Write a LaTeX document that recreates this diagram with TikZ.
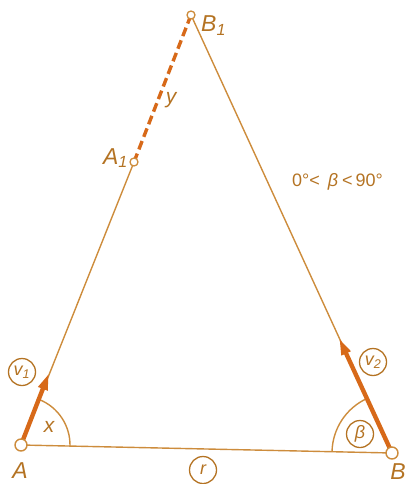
\documentclass[tikz,border=0pt]{standalone}
\usepackage{fontspec}
\setmainfont{Liberation Sans}
\usetikzlibrary{arrows.meta}
\definecolor{thin}{RGB}{205,140,60}
\definecolor{thick}{RGB}{215,105,25}
\definecolor{txt}{RGB}{180,115,35}
\begin{document}
\begin{tikzpicture}[x=1pt,y=-1pt,
  edge/.style={draw=thin,line width=1.4pt},
  vec/.style={draw=thick,line width=4.4pt,-{Triangle[length=17pt,width=9pt]}},
  bigdot/.style={circle,draw=thin,fill=white,line width=1.4pt,inner sep=0pt,minimum size=12pt},
  smalldot/.style={circle,draw=thin,fill=white,line width=1.3pt,inner sep=0pt,minimum size=8pt},
  lab/.style={text=txt,font=\fontsize{23}{23}\selectfont\itshape,inner sep=0pt},
  slab/.style={text=txt,font=\fontsize{21}{21}\selectfont\itshape,inner sep=0pt},
  ring/.style={circle,draw=txt,line width=1.3pt,text=txt,inner sep=0pt,minimum size=27pt,font=\fontsize{18}{18}\selectfont\itshape}]
\useasboundingbox (0,0) rectangle (406,484);
\coordinate (A) at (21,445);
\coordinate (B) at (392,453);
\coordinate (B1) at (191,15);
\coordinate (A1) at (134,162);
\coordinate (v1t) at (49,373);
\coordinate (v2t) at (339,338);
% triangle sides
\draw[edge] (A) -- (A1);
\draw[edge] (B1) -- (B);
\draw[edge] (A) -- (B);
\draw[draw=thick,line width=3.4pt,dash pattern=on 9pt off 4.5pt] (A1) -- (B1);
% angle arcs
\draw[edge] (A) ++(1.2:49) arc[start angle=1.2,end angle=-68.4,radius=49];
\draw[edge] (B) ++(181.2:60) arc[start angle=181.2,end angle=245.4,radius=60];
% vectors
\draw[vec] (A) -- (v1t);
\draw[vec] (B) -- (v2t);
% points
\node[bigdot] (pA) at (A) {};
\node[bigdot] (pB) at (B) {};
\node[smalldot] (pA1) at (A1) {};
\node[smalldot] (pB1) at (B1) {};
% labels
\node[lab,anchor=base] (lA) at (20,478) {A};
\node[lab,anchor=base] (lB) at (398,479) {B};
\node[lab,anchor=base west] (lB1) at (201,32) {B\textsubscript{1}};
\node[lab,anchor=base east] (lA1) at (128,164) {A\textsubscript{1}};
\node[slab] (ly) at (171,100) {y};
\node[slab] (lx) at (49,427) {x};
\node[ring] (rv1) at (22,372) {v\textsubscript{1}};
\node[ring] (rv2) at (373,362) {v\textsubscript{2}};
\node[ring] (rb) at (360,434) {β};
\node[ring] (rr) at (203,470) {r};
\node[text=txt,font=\fontsize{18}{18}\selectfont,inner sep=0pt,anchor=west] (cond) at (292,182) {0°\hspace{0pt}<\hspace{8pt}\textit{β}\hspace{4pt}<\hspace{3pt}90°};
\end{tikzpicture}
\end{document}
